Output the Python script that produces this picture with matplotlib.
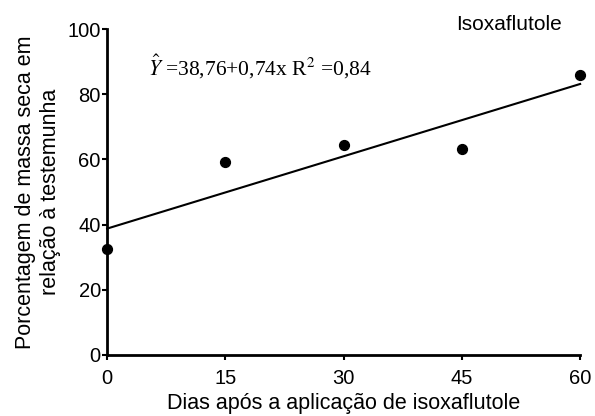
import numpy as np
import matplotlib.pyplot as plt

plt.rcParams['font.family'] = ['Liberation Sans', 'DejaVu Sans']
plt.rcParams['mathtext.fontset'] = 'stix'

# observed points
dias = [0, 15, 30, 45, 60]
massa = [32.5, 59.2, 64.4, 63.2, 85.9]

# fitted model
b0, b1 = 38.76, 0.74
xticks = [0, 15, 30, 45, 60]
yticks = [0, 20, 40, 60, 80, 100]

fig = plt.figure(figsize=(5.95, 4.16), dpi=100)
ax = fig.add_axes([0.18, 0.147, 0.795, 0.783])

xx = np.array([0, 60])
ax.plot(xx, b0 + b1 * xx, color='black', linewidth=1.5, clip_on=False)
ax.scatter(dias, massa, s=50, color='black', zorder=3, clip_on=False)

ax.set_xlim(0, 60)
ax.set_ylim(0, 100)
ax.set_xticks(xticks)
ax.set_yticks(yticks)
ax.tick_params(labelsize=14.5, width=1.5, length=3.5, direction='out')
ax.tick_params(axis='x', pad=7)
ax.tick_params(axis='y', pad=1)
for s in ['top', 'right']:
    ax.spines[s].set_visible(False)
for s in ['left', 'bottom']:
    ax.spines[s].set_linewidth(2)

ax.set_xlabel('Dias após a aplicação de isoxaflutole', fontsize=15.5, labelpad=3)
ax.set_ylabel('Porcentagem de massa seca em\nrelação à testemunha', fontsize=15.5,
              labelpad=5, linespacing=1.25)

ax.text(0.087, 0.885, r'$\hat{Y}$ =38,76+0,74x R$^{2}$ =0,84', transform=ax.transAxes,
        fontsize=15.5, family='Liberation Serif', va='center', ha='left')
ax.text(0.85, 1.015, 'Isoxaflutole', transform=ax.transAxes, fontsize=15,
        va='center', ha='center')

plt.savefig('out.png', dpi=100)
